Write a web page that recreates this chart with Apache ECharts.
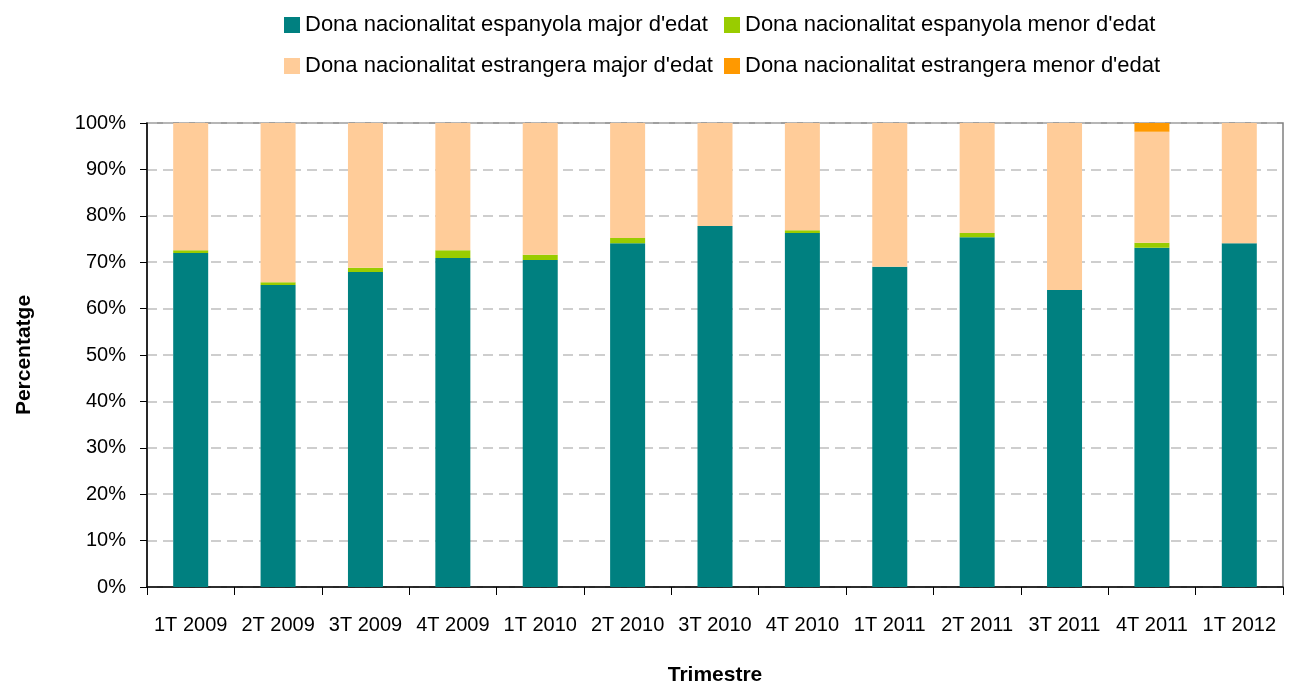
<!DOCTYPE html>
<html>
<head>
<meta charset="utf-8">
<script src="https://cdn.jsdelivr.net/npm/echarts@6/dist/echarts.min.js"></script>
<style>
html,body{margin:0;padding:0;background:#fff;}
#chart{width:1293px;height:689px;}
</style>
</head>
<body>
<div id="chart"></div>
<script>
const categories = ['1T 2009','2T 2009','3T 2009','4T 2009','1T 2010','2T 2010','3T 2010','4T 2010','1T 2011','2T 2011','3T 2011','4T 2011','1T 2012'];
const seriesNames = ["Dona nacionalitat espanyola major d'edat","Dona nacionalitat espanyola menor d'edat","Dona nacionalitat estrangera major d'edat","Dona nacionalitat estrangera menor d'edat"];
const espanyolaMajor = [72.0, 65.1, 67.9, 70.9, 70.5, 74.1, 77.8, 76.3, 69.0, 75.4, 64.0, 73.1, 74.1];
const espanyolaMenor = [0.6, 0.6, 0.9, 1.7, 1.1, 1.1, 0.0, 0.6, 0.0, 0.9, 0.0, 1.1, 0.0];
const estrangeraMajor = [27.4, 34.3, 31.2, 27.4, 28.4, 24.8, 22.2, 23.1, 31.0, 23.7, 36.0, 23.9, 25.9];
const estrangeraMenor = [0.0, 0.0, 0.0, 0.0, 0.0, 0.0, 0.0, 0.0, 0.0, 0.0, 0.0, 1.9, 0.0];
const yTicks = [0,10,20,30,40,50,60,70,80,90,100];

const FONT = '"Liberation Sans", Arial, sans-serif';
const colors = ['#008080','#99CC00','#FFCC99','#FF9900'];
const values = [espanyolaMajor, espanyolaMenor, estrangeraMajor, estrangeraMenor];

const legendPos = [[284,14],[724,14],[284,55],[724,55]];
const legends = seriesNames.map((n,i)=>({
  data:[n], left:legendPos[i][0], top:legendPos[i][1], padding:0,
  itemWidth:16, itemHeight:16, itemGap:8, icon:'rect', selectedMode:false,
  textStyle:{fontFamily:FONT, fontSize:22, color:'#000', lineHeight:16, padding:[0,0,0,0]}
}));

const chart = echarts.init(document.getElementById('chart'), null, {renderer:'canvas'});
chart.setOption({
  animation:false,
  backgroundColor:'#fff',
  color:colors,
  legend:legends,
  grid:{left:147, right:10, top:123, bottom:102, show:true, borderColor:'#808080', borderWidth:1.5, containLabel:false, outerBoundsMode:'none'},
  xAxis:{
    type:'category', data:categories,
    name:'Trimestre', nameLocation:'middle', nameGap:78,
    nameTextStyle:{fontFamily:FONT, fontSize:21, fontWeight:'bold', color:'#000'},
    axisLine:{lineStyle:{color:'#000', width:1.5}},
    axisTick:{show:true, length:8, lineStyle:{color:'#000'}},
    axisLabel:{fontFamily:FONT, fontSize:20, color:'#000', margin:28, interval:0}
  },
  yAxis:{
    type:'value', min:yTicks[0], max:yTicks[yTicks.length-1], interval:10,
    name:'Percentatge', nameLocation:'middle', nameGap:112, nameRotate:90,
    nameTextStyle:{fontFamily:FONT, fontSize:21, fontWeight:'bold', color:'#000'},
    axisLine:{show:true, lineStyle:{color:'#000', width:1.5}},
    axisTick:{show:true, length:7, lineStyle:{color:'#000'}},
    axisLabel:{fontFamily:FONT, fontSize:20, color:'#000', margin:21, formatter:'{value}%'},
    splitLine:{show:true, lineStyle:{color:'#BFBFBF', type:[10,6], width:1.5}}
  },
  series: seriesNames.map((n,i)=>({
    name:n, type:'bar', stack:'total', data:values[i], barWidth:35,
    itemStyle:{color:colors[i]}
  }))
});
</script>
</body>
</html>
